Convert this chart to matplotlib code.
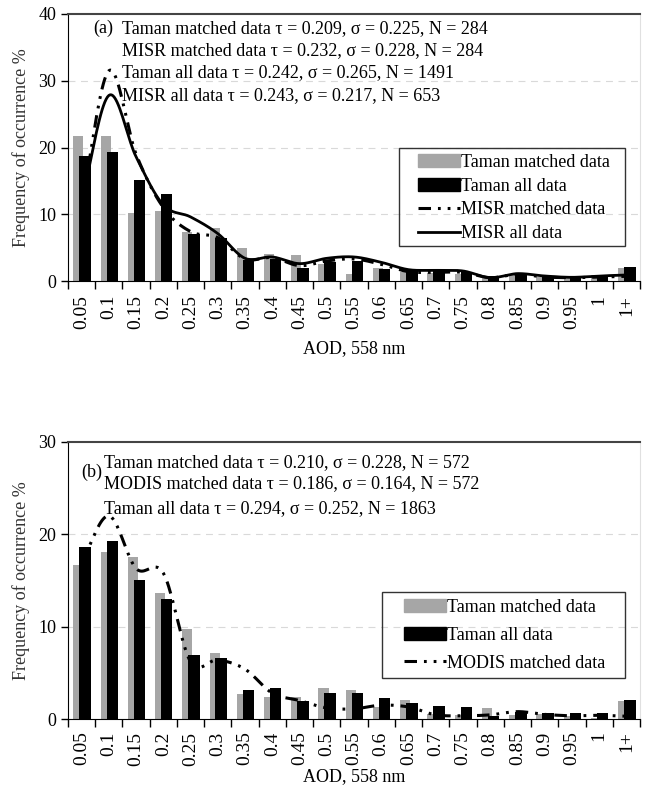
import numpy as np
import matplotlib
matplotlib.use("Agg")
import matplotlib.pyplot as plt
from matplotlib.lines import Line2D
from matplotlib.patches import Patch, Rectangle

plt.rcParams['font.family'] = ['Liberation Serif', 'DejaVu Serif']
plt.rcParams['lines.scale_dashes'] = False

categories = ["0.05", "0.1", "0.15", "0.2", "0.25", "0.3", "0.35", "0.4", "0.45", "0.5",
              "0.55", "0.6", "0.65", "0.7", "0.75", "0.8", "0.85", "0.9", "0.95", "1", "1+"]

# Panel (a)
a_taman_matched = [21.7, 21.7, 10.2, 10.5, 7.4, 8.0, 4.9, 4.1, 3.9, 2.6, 1.0, 2.0, 1.3, 1.2,
                   1.0, 0.5, 1.0, 0.6, 0.5, 0.9, 1.9]
a_taman_all = [18.7, 19.3, 15.2, 13.0, 7.0, 6.5, 3.1, 3.3, 2.0, 2.8, 3.0, 1.8, 1.6, 1.6,
               1.4, 0.7, 1.2, 0.7, 0.7, 0.8, 2.1]
a_misr_matched = [11.5, 31.5, 19.0, 11.0, 7.4, 6.5, 3.3, 3.5, 2.3, 3.0, 3.3, 2.5, 1.4, 1.3,
                  1.3, 0.5, 1.0, 0.6, 0.5, 0.6, 0.7]
a_misr_all = [12.0, 27.8, 18.6, 11.4, 9.6, 7.1, 3.4, 3.6, 2.6, 3.4, 3.6, 2.8, 1.7, 1.6,
              1.5, 0.5, 1.1, 0.75, 0.55, 0.75, 0.9]

# Panel (b)
b_taman_matched = [16.7, 18.1, 17.5, 13.7, 9.7, 7.2, 2.7, 2.35, 2.4, 3.4, 3.1, 1.3, 2.05, 0.5,
                   0.4, 1.2, 0.4, 0.5, 0.3, 0.1, 1.95]
b_taman_all = [18.6, 19.3, 15.1, 13.0, 6.9, 6.6, 3.1, 3.4, 1.9, 2.85, 2.85, 2.3, 1.75, 1.45,
               1.35, 0.3, 0.8, 0.7, 0.7, 0.7, 2.1]
b_modis_matched = [17.0, 22.0, 16.3, 15.8, 6.2, 6.4, 5.4, 2.8, 2.0, 1.2, 1.1, 1.5, 1.3, 0.45,
                   0.35, 0.45, 0.8, 0.5, 0.35, 0.4, 0.3]

text_a = ["Taman matched data \u03c4 = 0.209, \u03c3 = 0.225, N = 284",
          "MISR matched data \u03c4 = 0.232, \u03c3 = 0.228, N = 284",
          "Taman all data \u03c4 = 0.242, \u03c3 = 0.265, N = 1491",
          "MISR all data \u03c4 = 0.243, \u03c3 = 0.217, N = 653"]
text_b = ["Taman matched data \u03c4 = 0.210, \u03c3 = 0.228, N = 572",
          "MODIS matched data \u03c4 = 0.186, \u03c3 = 0.164, N = 572",
          "Taman all data \u03c4 = 0.294, \u03c3 = 0.252, N = 1863"]


def smooth(y, n=20):
    y = np.asarray(y, float)
    x = np.arange(len(y), dtype=float)
    P = np.concatenate([[2 * y[0] - y[1]], y, [2 * y[-1] - y[-2]]])
    xs, ys = [], []
    for i in range(len(y) - 1):
        p0, p1, p2, p3 = P[i], P[i + 1], P[i + 2], P[i + 3]
        t = np.linspace(0, 1, n, endpoint=False)
        v = 0.5 * ((2 * p1) + (-p0 + p2) * t + (2 * p0 - 5 * p1 + 4 * p2 - p3) * t ** 2
                   + (-p0 + 3 * p1 - 3 * p2 + p3) * t ** 3)
        xs.append(x[i] + t)
        ys.append(v)
    xs.append([x[-1]])
    ys.append([y[-1]])
    return np.concatenate(xs), np.concatenate(ys)


GRAY = '#a6a6a6'
DASHDOT = (0, (9, 5, 2, 5, 2, 5))
FS = 13

fig = plt.figure(figsize=(6.46, 7.86), dpi=100)
W, H = 646, 786
axa = fig.add_axes([68 / W, 1 - 281 / H, 572 / W, 267 / H])
axb = fig.add_axes([68 / W, 1 - 719 / H, 572 / W, 277 / H])

x = np.arange(len(categories))


def style(ax, ymax, xpad, lpad):
    ax.set_xlim(-0.5, len(categories) - 0.5)
    ax.set_ylim(0, ymax)
    ax.set_yticks(np.arange(0, ymax + 1, 10))
    ax.set_xticks(x)
    ax.set_xticklabels(categories, rotation=90, fontsize=14)
    ax.tick_params(axis='x', length=0, pad=xpad)
    ax.set_xticks(np.arange(-0.5, len(categories), 1), minor=True)
    ax.tick_params(axis='x', which='minor', length=6, direction='out', width=1)
    ax.tick_params(axis='y', length=5, direction='out', labelsize=FS, width=1)
    for yv in np.arange(10, ymax, 10):
        ax.axhline(yv, color='#d9d9d9', lw=0.8, ls=(0, (5, 4)), zorder=0)
    ax.spines['top'].set_color('#444444')
    ax.spines['top'].set_linewidth(1.5)
    ax.spines['right'].set_color('#e0e0e0')
    ax.spines['left'].set_color('black')
    ax.spines['bottom'].set_color('black')
    ax.set_ylabel("Frequency of occurrence %", fontsize=FS, labelpad=6, color='#333333')
    ax.set_xlabel("AOD, 558 nm", fontsize=FS, labelpad=lpad)


def legend_box(x0, y0, x1, y1):
    fig.add_artist(Rectangle((x0 / W, 1 - y1 / H), (x1 - x0) / W, (y1 - y0) / H,
                             transform=fig.transFigure, fill=False, edgecolor='#333333',
                             lw=1.0, zorder=5))


# Panel (a)
style(axa, 40, 10, 8)
axa.bar(x - 0.12, a_taman_matched, width=0.37, color=GRAY, zorder=2)
axa.bar(x + 0.125, a_taman_all, width=0.42, color='black', zorder=3)
sx, sy = smooth(a_misr_matched)
axa.plot(sx, sy, color='black', lw=2.2, ls=DASHDOT, zorder=4)
sx, sy = smooth(a_misr_all)
axa.plot(sx, sy, color='black', lw=2.0, zorder=4)
axa.text(0.045, 0.945, "(a)", transform=axa.transAxes, fontsize=FS, va='center')
for i, t in enumerate(text_a):
    axa.text(0.095, 0.945 - i * 0.083, t, transform=axa.transAxes, fontsize=FS, va='center')
h_a = [Patch(color=GRAY), Patch(color='black'),
       Line2D([], [], color='black', lw=2.2, ls=DASHDOT),
       Line2D([], [], color='black', lw=2.0)]
legend_box(399, 148, 625, 246)
la = fig.legend(h_a, ["Taman matched data", "Taman all data", "MISR matched data", "MISR all data"],
                loc='upper left', bbox_to_anchor=(418 / W, 1 - 154 / H),
                fontsize=FS, frameon=False, handlelength=2.3, handletextpad=0.1,
                borderpad=0, labelspacing=0.37, borderaxespad=0)

# Panel (b)
style(axb, 30, 9, 2)
axb.bar(x - 0.12, b_taman_matched, width=0.37, color=GRAY, zorder=2)
axb.bar(x + 0.125, b_taman_all, width=0.42, color='black', zorder=3)
sx, sy = smooth(b_modis_matched)
axb.plot(sx, sy, color='black', lw=2.2, ls=DASHDOT, zorder=4)
axb.text(0.024, 0.89, "(b)", transform=axb.transAxes, fontsize=FS, va='center')
ys_b = [0.925, 0.85, 0.76]
for t, yy in zip(text_b, ys_b):
    axb.text(0.063, yy, t, transform=axb.transAxes, fontsize=FS, va='center')
h_b = [Patch(color=GRAY), Patch(color='black'),
       Line2D([], [], color='black', lw=2.2, ls=DASHDOT)]
legend_box(382, 592, 625, 678)
lb = fig.legend(h_b, ["Taman matched data", "Taman all data", "MODIS matched data"],
                loc='upper left', bbox_to_anchor=(404 / W, 1 - 599 / H),
                fontsize=FS, frameon=False, handlelength=2.3, handletextpad=0.1,
                borderpad=0, labelspacing=0.6, borderaxespad=0)

fig.savefig("out.png", dpi=100)
